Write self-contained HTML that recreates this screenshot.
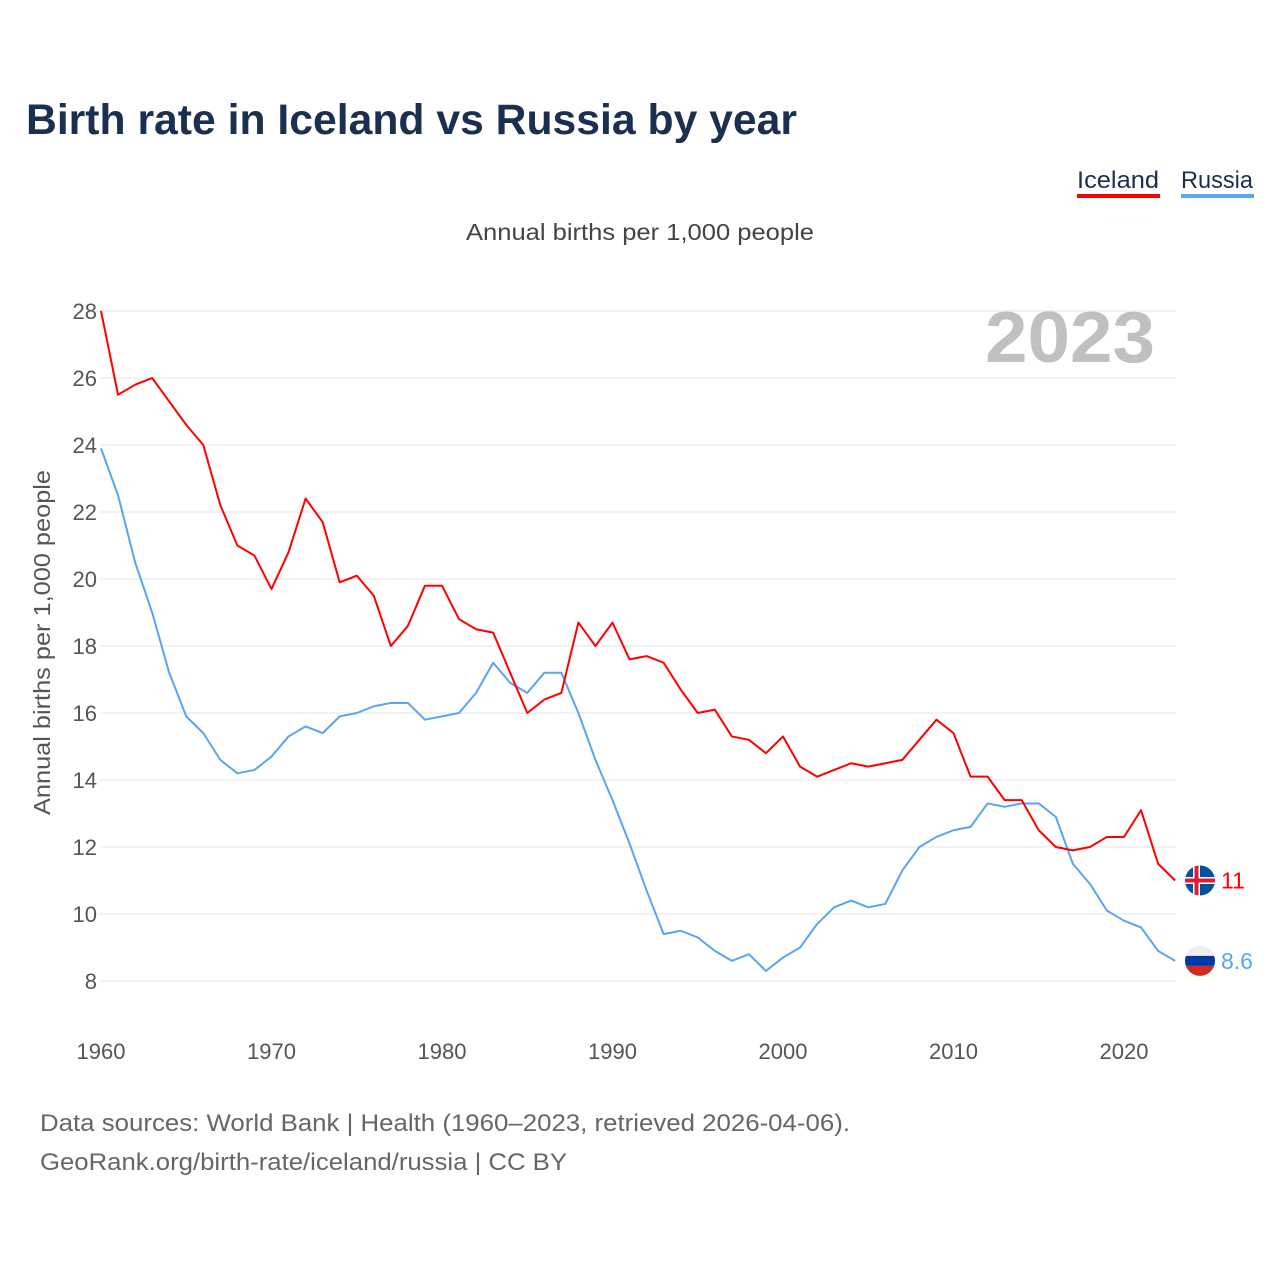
<!DOCTYPE html>
<html><head><meta charset="utf-8"><style>
body{margin:0;background:#fff;font-family:"Liberation Sans",sans-serif}
svg text{font-family:"Liberation Sans",sans-serif}
</style></head><body>
<svg id="chart" width="1280" height="1280" viewBox="0 0 1280 1280">
<rect width="1280" height="1280" fill="#fff"/>
<text x="26" y="134" font-size="43" font-weight="bold" fill="#1b3050" textLength="771" lengthAdjust="spacingAndGlyphs">Birth rate in Iceland vs Russia by year</text>
<g><text x="1077" y="188" font-size="24" fill="#1b3050" textLength="82" lengthAdjust="spacingAndGlyphs">Iceland</text><rect x="1077" y="194" width="83" height="4" fill="#f00"/></g>
<g><text x="1181" y="188" font-size="24" fill="#1b3050" textLength="72" lengthAdjust="spacingAndGlyphs">Russia</text><rect x="1181" y="194" width="73" height="4" fill="#5aa5f0"/></g>
<text x="466" y="240" font-size="23" fill="#444" textLength="348" lengthAdjust="spacingAndGlyphs">Annual births per 1,000 people</text>
<text x="985" y="362" font-size="72" font-weight="bold" fill="#c0c0c0" textLength="170" lengthAdjust="spacingAndGlyphs">2023</text>
<text transform="translate(50,815) rotate(-90)" font-size="23" fill="#555" textLength="345" lengthAdjust="spacingAndGlyphs">Annual births per 1,000 people</text>
<g id="grid"></g><g id="lines"></g><g id="ends"></g>
<text x="40" y="1131" font-size="24" fill="#666" textLength="810" lengthAdjust="spacingAndGlyphs">Data sources: World Bank | Health (1960–2023, retrieved 2026-04-06).</text>
<text x="40" y="1170" font-size="24" fill="#666" textLength="527" lengthAdjust="spacingAndGlyphs">GeoRank.org/birth-rate/iceland/russia | CC BY</text>
</svg>
<script>
const years=[];for(let y=1960;y<=2023;y++)years.push(y);
const iceland=[28,25.5,25.8,26.0,25.3,24.6,24.0,22.2,21.0,20.7,19.7,20.8,22.4,21.7,19.9,20.1,19.5,18.0,18.6,19.8,19.8,18.8,18.5,18.4,17.2,16.0,16.4,16.6,18.7,18.0,18.7,17.6,17.7,17.5,16.7,16.0,16.1,15.3,15.2,14.8,15.3,14.4,14.1,14.3,14.5,14.4,14.5,14.6,15.2,15.8,15.4,14.1,14.1,13.4,13.4,12.5,12.0,11.9,12.0,12.3,12.3,13.1,11.5,11.0];
const russia=[23.9,22.5,20.5,19.0,17.2,15.9,15.4,14.6,14.2,14.3,14.7,15.3,15.6,15.4,15.9,16.0,16.2,16.3,16.3,15.8,15.9,16.0,16.6,17.5,16.9,16.6,17.2,17.2,16.0,14.6,13.4,12.1,10.7,9.4,9.5,9.3,8.9,8.6,8.8,8.3,8.7,9.0,9.7,10.2,10.4,10.2,10.3,11.3,12.0,12.3,12.5,12.6,13.3,13.2,13.3,13.3,12.9,11.5,10.9,10.1,9.8,9.6,8.9,8.6];
const yTicks=[8,10,12,14,16,18,20,22,24,26,28];
const xTicks=[1960,1970,1980,1990,2000,2010,2020];
const NS="http://www.w3.org/2000/svg";
const X=y=>101+(y-1960)*17.05, Y=v=>981-(v-8)*33.5;
function mk(t,a,p){const e=document.createElementNS(NS,t);for(const k in a)e.setAttribute(k,a[k]);p.appendChild(e);return e;}
const g=document.getElementById('grid');
yTicks.forEach(v=>{
 const l=mk('line',{x1:100,x2:1176,y1:Y(v),y2:Y(v),stroke:'#e6e6e6','stroke-width':1},g);
 
 
 const t=mk('text',{x:97,y:Y(v)+8,'font-size':22,fill:'#555','text-anchor':'end'},g);t.textContent=v;
 
 
});
xTicks.forEach(v=>{
 const t=mk('text',{x:X(v),y:1059,'font-size':22,fill:'#555','text-anchor':'middle'},g);t.textContent=v;
 
 
});
const L=document.getElementById('lines');
[[russia,'#5aa5f0','russia-line'],[iceland,'#f00','iceland-line']].forEach(([d,c,n])=>{
 const p=mk('polyline',{points:d.map((v,i)=>X(years[i])+','+Y(v)).join(' '),fill:'none',stroke:c,'stroke-width':2,'stroke-linejoin':'round'},L);
 
 
});
const E=document.getElementById('ends');
const cx=1200;
let yi=Y(iceland[iceland.length-1]);
let fi=mk('g',{},E);


mk('clipPath',{id:'ci'},fi);mk('circle',{cx:cx,cy:yi,r:15},fi.lastChild);
let gi=mk('g',{'clip-path':'url(#ci)'},fi);
mk('rect',{x:cx-15,y:yi-15,width:30,height:30,fill:'#02529c'},gi);
mk('rect',{x:cx-7,y:yi-15,width:7,height:30,fill:'#fff'},gi);
mk('rect',{x:cx-15,y:yi-3.5,width:30,height:7,fill:'#fff'},gi);
mk('rect',{x:cx-5.5,y:yi-15,width:4,height:30,fill:'#dc1e35'},gi);
mk('rect',{x:cx-15,y:yi-2,width:30,height:4,fill:'#dc1e35'},gi);
let ti=mk('text',{x:1221,y:yi+8,'font-size':23,fill:'#f00'},E);ti.textContent=iceland[iceland.length-1];


let yr=Y(russia[russia.length-1]);
let fr=mk('g',{},E);


mk('clipPath',{id:'cr'},fr);mk('circle',{cx:cx,cy:yr,r:15},fr.lastChild);
let gr=mk('g',{'clip-path':'url(#cr)'},fr);
mk('rect',{x:cx-15,y:yr-15,width:30,height:10,fill:'#eee'},gr);
mk('rect',{x:cx-15,y:yr-5,width:30,height:10,fill:'#0039a6'},gr);
mk('rect',{x:cx-15,y:yr+5,width:30,height:10,fill:'#d52b1e'},gr);
let tr=mk('text',{x:1221,y:yr+8,'font-size':23,fill:'#5aa5f0'},E);tr.textContent=russia[russia.length-1];


</script>
</body></html>
